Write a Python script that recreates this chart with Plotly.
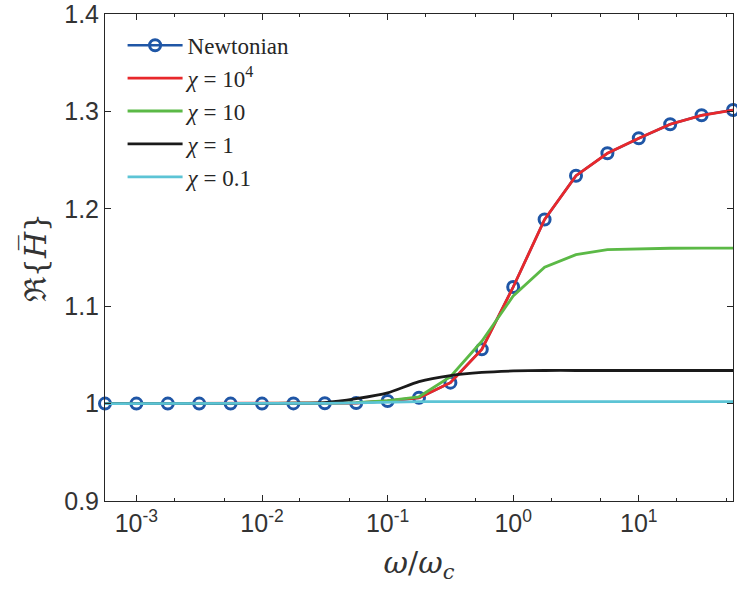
import numpy as np
import plotly.graph_objects as go

# x grid: omega/omega_c (log-spaced, quarter decades)
exps = [-3.25, -3.0, -2.75, -2.5, -2.25, -2.0, -1.75, -1.5, -1.25, -1.0, -0.75,
        -0.5, -0.25, 0.0, 0.25, 0.5, 0.75, 1.0, 1.25, 1.5, 1.75]
x = [10 ** e for e in exps]

newtonian = [1.0, 1.0, 1.0, 1.0, 1.0, 1.0, 1.0002, 1.0003, 1.0006, 1.0027, 1.006,
             1.0215, 1.0557, 1.1197, 1.189, 1.234, 1.257, 1.2724, 1.2868, 1.296, 1.3014]
chi_1e4 = [1.0, 1.0, 1.0, 1.0, 1.0, 1.0, 1.0002, 1.0003, 1.0006, 1.0027, 1.006,
           1.0215, 1.0557, 1.1197, 1.189, 1.234, 1.257, 1.2724, 1.2868, 1.296, 1.3014]
chi_10 = [1.0, 1.0, 1.0, 1.0, 1.0, 1.0, 1.0002, 1.0004, 1.001, 1.003, 1.007,
          1.0276, 1.064, 1.1105, 1.140, 1.153, 1.158, 1.159, 1.1595, 1.1597, 1.1597]
chi_1 = [1.0, 1.0, 1.0, 1.0, 1.0, 1.0, 1.0004, 1.001, 1.005, 1.011, 1.0225,
         1.0287, 1.032, 1.0335, 1.034, 1.034, 1.034, 1.034, 1.034, 1.034, 1.034]
chi_01 = [1.0, 1.0, 1.0, 1.0, 1.0, 1.0, 1.0, 1.0003, 1.0008, 1.0015, 1.002,
          1.002, 1.002, 1.002, 1.002, 1.002, 1.002, 1.002, 1.002, 1.002, 1.002]

xtick_vals = [1e-3, 1e-2, 1e-1, 1e0, 1e1]
xtick_text = ["10<sup>-3</sup>", "10<sup>-2</sup>", "10<sup>-1</sup>", "10<sup>0</sup>", "10<sup>1</sup>"]
ytick_vals = [0.9, 1.0, 1.1, 1.2, 1.3, 1.4]
ytick_text = ["0.9", "1", "1.1", "1.2", "1.3", "1.4"]

BLUE = "#1f56a6"
RED = "#e8282b"
GREEN = "#5bb946"
BLACK = "#1a1a1a"
CYAN = "#5cc4d5"

fig = go.Figure()
fig.add_trace(go.Scatter(x=x, y=newtonian, mode="lines+markers", name="Newtonian",
                         cliponaxis=False,
                         line=dict(color=BLUE, width=2.5),
                         marker=dict(symbol="circle-open", size=11, color=BLUE,
                                     line=dict(width=3, color=BLUE))))
fig.add_trace(go.Scatter(x=x, y=chi_1e4, mode="lines", name="<i>χ</i> = 10<sup>4</sup>",
                         line=dict(color=RED, width=2.8)))
fig.add_trace(go.Scatter(x=x, y=chi_10, mode="lines", name="<i>χ</i> = 10",
                         line=dict(color=GREEN, width=2.8)))
fig.add_trace(go.Scatter(x=x, y=chi_1, mode="lines", name="<i>χ</i> = 1",
                         line=dict(color=BLACK, width=2.8, shape="spline", smoothing=0.6)))
fig.add_trace(go.Scatter(x=x, y=chi_01, mode="lines", name="<i>χ</i> = 0.1",
                         line=dict(color=CYAN, width=2.8)))

axcol = "#262626"
fig.update_xaxes(type="log", range=[-3.25, 1.75], automargin=False,
                 tickvals=xtick_vals, ticktext=xtick_text, ticklabeloverflow="allow",
                 ticks="inside", ticklen=6, tickcolor=axcol, mirror="allticks",
                 showline=True, linecolor=axcol, linewidth=1, showgrid=False, zeroline=False,
                 minor=dict(ticks="inside", ticklen=3, tickcolor=axcol, showgrid=False),
                 tickfont=dict(family="Liberation Sans, Arial", size=25, color="#333333"),
                 title=dict(text="<i>ω</i>/<i>ω<sub>c</sub></i>",
                            font=dict(family="DejaVu Serif, Liberation Serif", size=30, color="#333333"),
                            standoff=15))
fig.update_yaxes(range=[0.9, 1.4], tickvals=ytick_vals, ticktext=ytick_text, automargin=False,
                 ticklabeloverflow="allow",
                 ticks="inside", ticklen=6, tickcolor=axcol, mirror="allticks",
                 showline=True, linecolor=axcol, linewidth=1, showgrid=False, zeroline=False,
                 tickfont=dict(family="Liberation Sans, Arial", size=25, color="#333333"),
                 title=dict(text="ℜ{<i>H̅</i>}",
                            font=dict(family="DejaVu Serif, Liberation Serif", size=30, color="#333333"),
                            standoff=8))

fig.update_layout(width=737, height=594,
                  margin=dict(l=105, r=4, t=14, b=93),
                  paper_bgcolor="white", plot_bgcolor="white",
                  showlegend=True,
                  legend=dict(x=0.028, y=0.98, xanchor="left", yanchor="top",
                              bgcolor="rgba(255,255,255,0)", borderwidth=0,
                              font=dict(family="Liberation Serif, DejaVu Serif", size=23, color="#262626"),
                              itemwidth=55, tracegroupgap=0))

fig.write_html("out.html", config={"displayModeBar": False},
               post_script="document.body.style.margin='0';")
